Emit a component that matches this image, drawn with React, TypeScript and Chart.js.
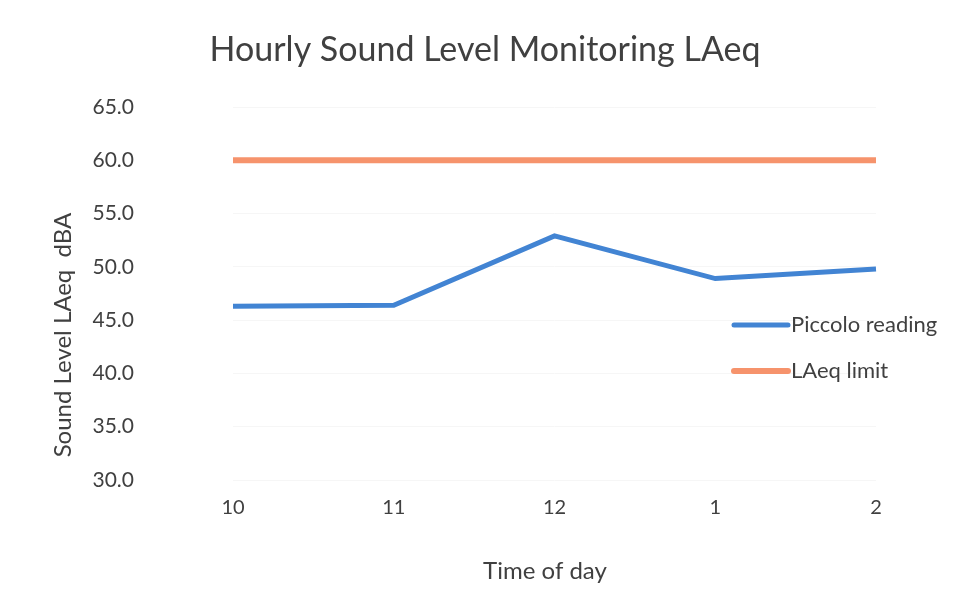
import React, { useEffect, useRef } from "react";
import { Chart, registerables } from "chart.js";

Chart.register(...registerables);

const categories = ["10", "11", "12", "1", "2"];
const piccoloReading = [46.3, 46.4, 52.9, 48.9, 49.8];
const laeqLimit = [60.0, 60.0, 60.0, 60.0, 60.0];
const seriesNames = ["Piccolo reading", "LAeq limit"];
const chartTitle = "Hourly Sound Level Monitoring LAeq";
const xTitle = "Time of day";
const yTitle = "Sound Level LAeq  dBA";

const FONT = "Lato, 'Open Sans', sans-serif";
const TEXT = "#404040";

const textPlugin = {
  id: "textOverlay",
  afterDraw(chart: any) {
    const ctx = chart.ctx;
    ctx.save();
    ctx.fillStyle = TEXT;
    // chart title
    ctx.font = `34px ${FONT}`;
    ctx.textAlign = "center";
    ctx.textBaseline = "alphabetic";
    ctx.fillText(chartTitle, 485, 61);
    // x axis title
    ctx.font = `24px ${FONT}`;
    ctx.fillText(xTitle, 545, 579);
    // y axis title
    ctx.save();
    ctx.translate(71, 335);
    ctx.rotate(-Math.PI / 2);
    ctx.font = `24px ${FONT}`;
    ctx.fillText(yTitle, 0, 0);
    ctx.restore();
    // legend
    const rows = [325, 371];
    chart.data.datasets.forEach((ds: any, i: number) => {
      const y = rows[i];
      ctx.strokeStyle = ds.borderColor;
      ctx.lineWidth = ds.borderWidth;
      ctx.lineCap = "round";
      ctx.beginPath();
      ctx.moveTo(734, y);
      ctx.lineTo(788, y);
      ctx.stroke();
      ctx.fillStyle = TEXT;
      ctx.font = `22px ${FONT}`;
      ctx.textBaseline = "middle";
      ctx.textAlign = "left";
      ctx.fillText(ds.label, 791, y);
    });
    ctx.restore();
  },
};

export default function App() {
  const ref = useRef<HTMLCanvasElement | null>(null);
  useEffect(() => {
    document.body.style.margin = "0";
    const chart = new Chart(ref.current as HTMLCanvasElement, {
      type: "line",
      data: {
        labels: categories,
        datasets: [
          {
            label: seriesNames[0],
            data: piccoloReading,
            borderColor: "#4284d3",
            backgroundColor: "#4284d3",
            borderWidth: 5,
            pointRadius: 0,
            tension: 0,
          },
          {
            label: seriesNames[1],
            data: laeqLimit,
            borderColor: "#f6936c",
            backgroundColor: "#f6936c",
            borderWidth: 6,
            pointRadius: 0,
            tension: 0,
          },
        ],
      },
      options: {
        animation: false,
        responsive: false,
        maintainAspectRatio: false,
        layout: { padding: { left: 0, right: 80, top: 107, bottom: 0 } },
        plugins: {
          legend: { display: false },
          tooltip: { enabled: false },
          title: { display: false },
        },
        scales: {
          x: {
            offset: false,
            grid: { display: false, drawTicks: false },
            border: { display: false },
            ticks: {
              color: TEXT,
              font: { family: FONT, size: 20 },
              padding: 16,
              maxRotation: 0,
            },
            afterFit(scale: any) {
              scale.height = 116;
              scale.paddingLeft = 0;
              scale.paddingRight = 0;
            },
          },
          y: {
            min: 30,
            max: 65,
            grid: { color: "#f6f6f6", drawTicks: false },
            border: { display: false },
            ticks: {
              stepSize: 5,
              color: TEXT,
              font: { family: FONT, size: 21 },
              padding: 99,
              callback: (v: any) => Number(v).toFixed(1),
            },
            afterFit(scale: any) {
              scale.width = 233;
              scale.paddingTop = 0;
              scale.paddingBottom = 0;
            },
          },
        },
      },
      plugins: [textPlugin],
    });
    return () => chart.destroy();
  }, []);
  return (
    <div style={{ width: 956, height: 596, background: "#fff" }}>
      <canvas ref={ref} width={956} height={596} />
    </div>
  );
}
